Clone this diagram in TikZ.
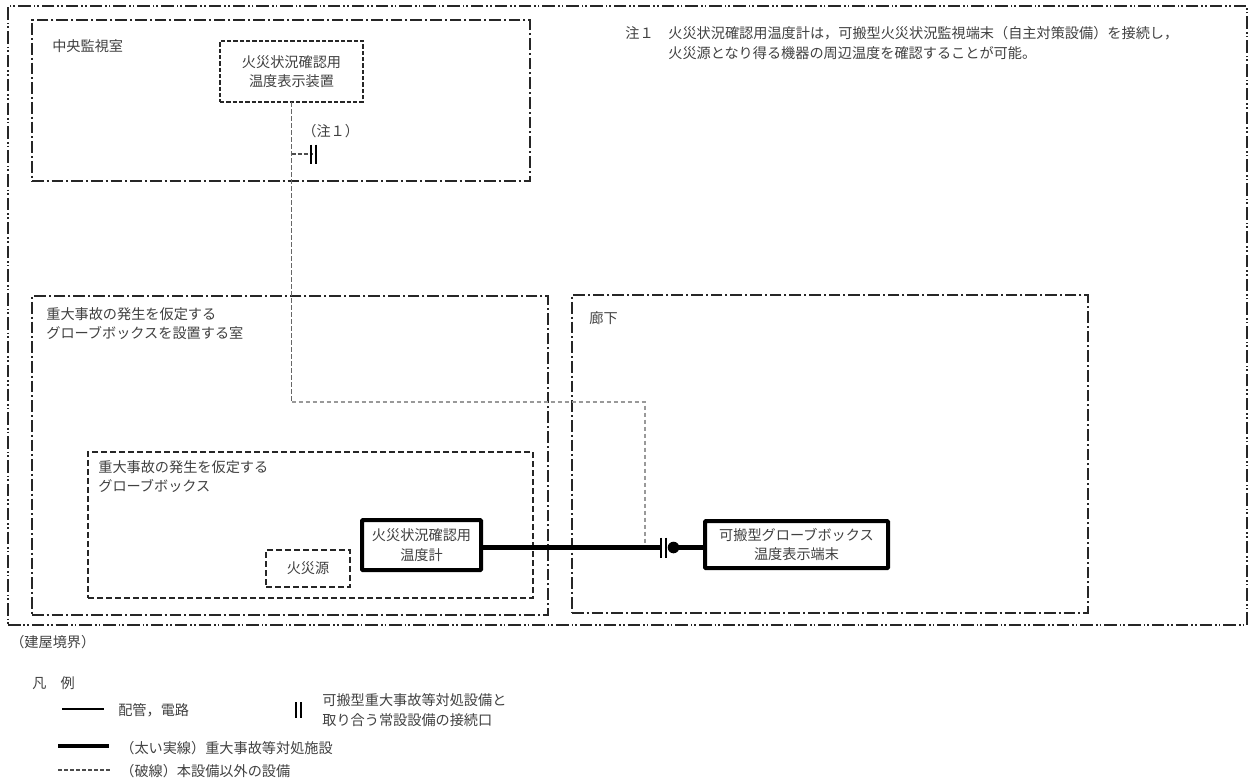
\documentclass[tikz,border=0pt]{standalone}
\usepackage{fontspec}
\setmainfont{Noto Sans CJK JP}
\usetikzlibrary{positioning,calc,fit}

\begin{document}
\begin{tikzpicture}[x=0.6pt, y=-0.6pt, font=\fontsize{8.5}{11.8}\selectfont, text=black!75,
    building/.style={draw=black!85, line width=0.65pt, inner sep=0pt, outer sep=0pt, dash pattern=on 7.5pt off 1.8pt on 1pt off 1.2pt on 1pt off 1.8pt},
    room/.style={draw=black!85, line width=0.65pt, inner sep=0pt, outer sep=0pt, dash pattern=on 7pt off 1.8pt on 1.2pt off 1.8pt},
    dashbox/.style={draw=black!85, line width=0.65pt, inner sep=0pt, outer sep=0pt, dash pattern=on 3.6pt off 1.8pt},
    finebox/.style={draw=black!85, line width=0.65pt, inner sep=0pt, outer sep=0pt, dash pattern=on 2.6pt off 1.2pt},
    thickbox/.style={draw, line width=2.4pt, inner sep=0pt, outer sep=0pt, rounded corners=0.5pt, fill=white},
    boxtext/.style={inner sep=0pt, align=center},
    caption/.style={inner sep=0pt, anchor=north west, align=left},
    thinline/.style={line width=0.65pt},
    thickline/.style={line width=2.6pt},
    dashline/.style={draw=black!70, line width=0.65pt, dash pattern=on 2.4pt off 1.2pt},
    otherline/.style={draw=black!60, line width=1pt, dash pattern=on 2.7pt off 1.5pt},
    otherlight/.style={draw=black!40, line width=0.9pt, dash pattern=on 2.7pt off 1.5pt}]

        \useasboundingbox (0,0) rectangle (1250,780);

        % Boundaries
        \node [building, fit={(8,6) (1247,625)}] (Building) {};
        \node [room, fit={(32,20) (530,181)}] (Control) {};
        \node [room, fit={(32,296) (548,615)}] (Room) {};
        \node [room, fit={(572,295) (1088,613)}] (Corridor) {};
        \node [dashbox, fit={(88,452) (533,598)}] (Glovebox) {};

        % Equipment
        \node [finebox, fit={(220,41) (363,102)}] (Display) {};
        \node [dashbox, fit={(266,550) (350,587)}] (Source) {};
        \node [thickbox, fit={(362,520) (481,570)}] (Meter) {};
        \node [thickbox, fit={(705,521) (888,568)}] (Terminal) {};

        \node [boxtext] (Display_text) at (Display.center) {火災状況確認用\\温度表示装置};
        \node [boxtext] (Source_text) at (Source.center) {火災源};
        \node [boxtext] (Meter_text) at (Meter.center) {火災状況確認用\\温度計};
        \node [boxtext] (Terminal_text) at (Terminal.center) {可搬型グローブボックス\\温度表示端末};

        % Labels
        \node [caption] (Control_label) at (52,39) {中央監視室};
        \node [caption] (Room_label) at (46,307) {重大事故の発生を仮定する\\グローブボックスを設置する室};
        \node [caption] (Corridor_label) at (589,311) {廊下};
        \node [caption] (Glovebox_label) at (98,460) {重大事故の発生を仮定する\\グローブボックス};
        \node [caption] (Note_mark) at (625,26) {注１};
        \node [caption] (Note_text) at (668,26) {火災状況確認用温度計は，可搬型火災状況監視端末（自主対策設備）を接続し，\\火災源となり得る機器の周辺温度を確認することが可能。};
        \node [caption] (Note_ref) at (302,124) {（注１）};
        \node [caption] (Building_label) at (10,635) {（建屋境界）};

        % Lines
        \coordinate (Port_top) at (313,154);
        \coordinate (Bend_top) at (Display.south |- 0,402);
        \coordinate (Joint) at (645,547.5);
        \coordinate (Bend_right) at (Joint |- Bend_top);
        \coordinate (Port_left) at (661,547.5);
        \coordinate (Port_right) at (666,547.5);
        \coordinate (Plug) at (673.5,547.5);

        \draw [otherline] (Display.south) -- (Bend_top);
        \draw [otherlight] (Bend_top) -- (Bend_right) -- (Joint);
        \draw [dashline] (Display.south |- Port_top) -- (Port_top);
        \draw [thinline] ($(Port_top)+(-2,-9.5)$) -- ($(Port_top)+(-2,9.5)$);
        \draw [thinline] ($(Port_top)+(3,-9.5)$) -- ($(Port_top)+(3,9.5)$);

        \draw [thickline] (Meter.east |- Joint) -- (Port_left);
        \draw [thickline] (Plug) -- (Terminal.west |- Joint);
        \draw [line width=1.2pt] ($(Port_left)+(0,-10)$) -- ($(Port_left)+(0,10)$);
        \draw [line width=1.2pt] ($(Port_right)+(0,-10)$) -- ($(Port_right)+(0,10)$);
        \fill (Plug) circle [radius=5.8];

        % Legend
        \node [caption] (Legend_title) at (32,676) {凡\hspace{1em}例};
        \coordinate (Thin_left) at (62,709);
        \coordinate (Thin_right) at (104,709);
        \coordinate (Thick_left) at (58,746);
        \coordinate (Thick_right) at (109,746);
        \coordinate (Dash_left) at (58,770);
        \coordinate (Dash_right) at (110,770);
        \coordinate (Key_left) at (295.5,710);
        \coordinate (Key_right) at (300.5,710);

        \draw [thinline] (Thin_left) -- (Thin_right);
        \draw [thickline] (Thick_left) -- (Thick_right);
        \draw [dashline] (Dash_left) -- (Dash_right);
        \draw [line width=1.2pt] ($(Key_left)+(0,-8)$) -- ($(Key_left)+(0,8)$);
        \draw [line width=1.2pt] ($(Key_right)+(0,-8)$) -- ($(Key_right)+(0,8)$);

        \node [caption, anchor=west] (Thin_text) at (118,710) {配管，電路};
        \node [caption, anchor=west] (Key_text) at (322,710) {可搬型重大事故等対処設備と\\取り合う常設設備の接続口};
        \node [caption, anchor=west] (Thick_text) at (120,748) {（太い実線）重大事故等対処施設};
        \node [caption, anchor=west] (Dash_text) at (120,771.5) {（破線）本設備以外の設備};

    \end{tikzpicture}
\end{document}
